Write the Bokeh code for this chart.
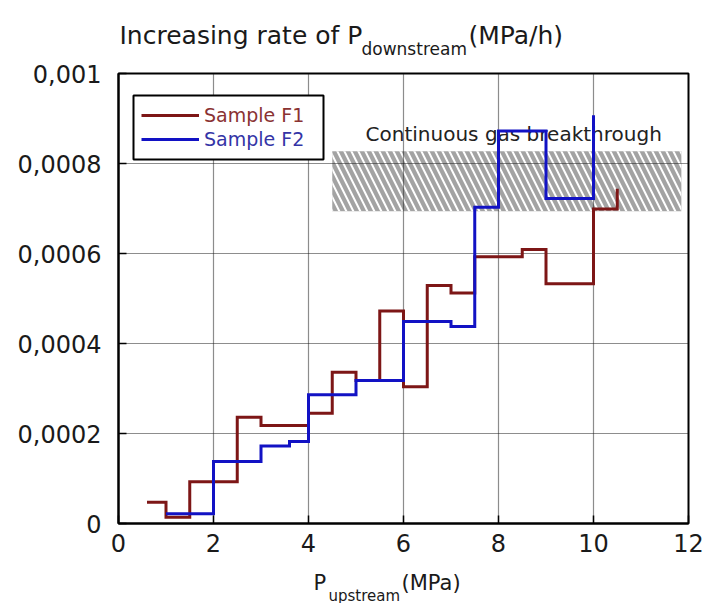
from bokeh.plotting import figure
from bokeh.layouts import column
from bokeh.models import Range1d, FixedTicker, Legend, LegendItem, BoxAnnotation
from bokeh.core.properties import value
from bokeh.embed import file_html
from bokeh.resources import INLINE

# ---- data ----
f1_edges = [0.6, 1.0, 1.5, 2.5, 3.0, 4.0, 4.5, 5.0, 5.5, 6.0, 6.5, 7.0, 7.5, 8.5, 9.0, 10.0, 10.5]
f1_rates = [0.000047, 0.000014, 0.000093, 0.000236, 0.000218, 0.000245, 0.000336, 0.000318,
            0.000472, 0.000304, 0.000529, 0.000512, 0.000593, 0.000609, 0.000533, 0.000699, 0.000744]
f2_edges = [1.0, 2.0, 3.0, 3.6, 4.0, 5.0, 6.0, 7.0, 7.5, 8.0, 9.0, 10.0]
f2_rates = [0.0000215, 0.000138, 0.000172, 0.000182, 0.000286, 0.000318, 0.000449, 0.000438,
            0.000703, 0.000872, 0.000722, 0.000907]
x_ticks = [0, 2, 4, 6, 8, 10, 12]
x_tick_labels = ["0", "2", "4", "6", "8", "10", "12"]
y_ticks = [0, 0.0002, 0.0004, 0.0006, 0.0008, 0.001]
y_tick_labels = ["0", "0,0002", "0,0004", "0,0006", "0,0008", "0,001"]
band_x = [4.5, 11.85]
band_y = [0.000694, 0.000827]
band_text = ["Continuous gas breakthrough"]
band_text_x = [8.32]
band_text_y = [0.000866]
series_names = ["Sample F1", "Sample F2"]
title_parts = ["Increasing rate of P", "downstream", "(MPa/h)"]
xlabel_parts = ["P", "upstream", "(MPa)"]

FONT = "DejaVu Sans"
TXT = "#1a1a1a"
F1C = "#7d1616"
F2C = "#1212c4"
F1T = "#8a3232"
F2T = "#3434a6"
FRAME_L, FRAME_W, FRAME_R = 118, 570, 19   # page pixels, shared by all rows


def text_strip(height, top_px):
    """Axis-less strip, frame aligned with the plot; data units are page pixels."""
    f = figure(frame_width=FRAME_W, frame_height=height,
               x_range=Range1d(FRAME_L, FRAME_L + FRAME_W),
               y_range=Range1d(top_px + height, top_px),
               x_axis_type=None, y_axis_type=None, toolbar_location=None,
               output_backend="svg", min_border_left=FRAME_L, min_border_right=FRAME_R,
               min_border_top=0, min_border_bottom=0)
    f.outline_line_color = None
    f.grid.visible = False
    f.background_fill_color = "white"
    f.border_fill_color = "white"
    return f


def put(f, txt, x, y, size):
    f.text(x=[x], y=[y], text=[txt], text_font=value(FONT), text_font_size=size,
           text_color=TXT, text_baseline="alphabetic", text_align="left")


# ---- title strip ----
top = text_strip(59, 0)
put(top, title_parts[0], 119, 35, "25px")
put(top, title_parts[1], 361, 48, "17px")
put(top, title_parts[2], 468, 35, "25px")

# ---- main plot ----
p = figure(frame_width=FRAME_W, frame_height=450,
           x_range=Range1d(0, 12), y_range=Range1d(0, 0.001),
           output_backend="svg", toolbar_location=None,
           min_border_left=FRAME_L, min_border_right=FRAME_R, min_border_top=14,
           min_border_bottom=37)
p.background_fill_color = "white"
p.border_fill_color = "white"
p.outline_line_color = "black"
p.outline_line_width = 2

p.xaxis.ticker = FixedTicker(ticks=x_ticks)
p.yaxis.ticker = FixedTicker(ticks=y_ticks)
p.xaxis.major_label_overrides = {t: l for t, l in zip(x_ticks, x_tick_labels)}
p.yaxis.major_label_overrides = {t: l for t, l in zip(y_ticks, y_tick_labels)}
for ax in (p.xaxis[0], p.yaxis[0]):
    ax.major_label_text_font = FONT
    ax.major_label_text_font_size = "24px"
    ax.major_label_text_color = TXT
    ax.axis_line_width = 2
    ax.axis_line_color = "black"
    ax.major_tick_in = 8
    ax.major_tick_out = 0
    ax.major_tick_line_width = 1.5
    ax.minor_tick_line_color = None
p.yaxis.major_label_standoff = 17
p.xaxis.major_label_standoff = 10

for g in (p.xgrid[0], p.ygrid[0]):
    g.grid_line_color = "#1a1a1a"
    g.grid_line_dash = "1 1"
    g.grid_line_width = 1.2
p.xgrid.ticker = FixedTicker(ticks=x_ticks)
p.ygrid.ticker = FixedTicker(ticks=y_ticks)

# hatched band (below the grid)
p.quad(left=[band_x[0]], right=[band_x[1]], bottom=[band_y[0]], top=[band_y[1]],
       fill_color="#a3a3a3", line_color=None, hatch_pattern="\\", hatch_color="white",
       hatch_scale=14, hatch_weight=2, level="image")
p.text(x=band_text_x, y=band_text_y, text=band_text, text_font=value(FONT),
       text_font_size="20px", text_align="center", text_baseline="alphabetic",
       text_color="#222222")

# series
r1 = p.step(x=f1_edges, y=f1_rates, mode="after", line_color=F1C, line_width=3, line_join="miter")
r2 = p.step(x=f2_edges, y=f2_rates, mode="after", line_color=F2C, line_width=3, line_join="miter")

# legend: white box with border, then one row per series with its own text colour
box_l, box_b, box_w, box_h = 15, 364, 190, 64   # frame pixels
p.add_layout(BoxAnnotation(left=box_l / FRAME_W * 12, right=(box_l + box_w) / FRAME_W * 12,
                           bottom=box_b / 450 * 0.001, top=(box_b + box_h) / 450 * 0.001,
                           fill_color="white", fill_alpha=1.0,
                           line_color="black", line_width=2, line_alpha=1.0))
common = dict(border_line_alpha=0, background_fill_alpha=0, padding=8, spacing=0,
              glyph_width=58, glyph_height=24, label_height=24, label_width=110,
              label_standoff=5, margin=0, label_text_font=FONT, label_text_font_size="19px")
legA = Legend(items=[LegendItem(label=series_names[0], renderers=[r1])],
              location=(box_l, box_b + 24), label_text_color=F1T, **common)
legB = Legend(items=[LegendItem(label=series_names[1], renderers=[r2])],
              location=(box_l, box_b), label_text_color=F2T, **common)
p.add_layout(legA)
p.add_layout(legB)

# ---- x-label strip ----
bot = text_strip(603 - 560, 560)
put(bot, xlabel_parts[0], 313, 582, "21px")
put(bot, xlabel_parts[1], 328, 595, "15px")
put(bot, xlabel_parts[2], 401, 582, "21px")

layout = column(top, p, bot, spacing=0)
open("out.html", "w").write(file_html(layout, INLINE))
